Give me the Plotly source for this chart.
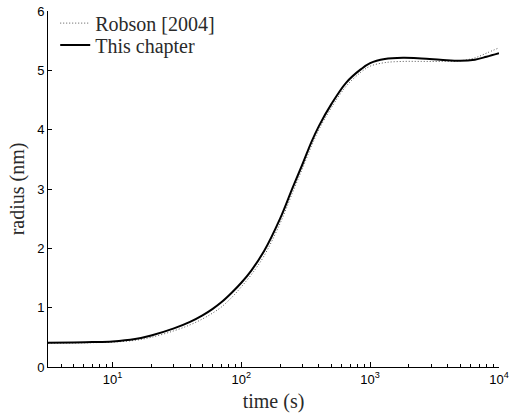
import plotly.graph_objects as go

# time (s) and radius (nm)
time_s = [3.16, 5, 7, 10, 15, 20, 30, 40, 50, 60, 70, 85, 100, 120, 150, 200, 250, 300, 350,
          400, 500, 650, 850, 1000, 1300, 1800, 2500, 3500, 5000, 6500, 8000, 10000]
radius_this = [0.41, 0.415, 0.42, 0.43, 0.47, 0.53, 0.65, 0.76, 0.87, 0.98, 1.09, 1.26, 1.42,
               1.63, 1.95, 2.50, 3.02, 3.43, 3.79, 4.06, 4.43, 4.79, 5.02, 5.12, 5.19, 5.21,
               5.20, 5.18, 5.16, 5.18, 5.23, 5.29]
radius_robson = [0.40, 0.405, 0.41, 0.42, 0.45, 0.50, 0.61, 0.71, 0.81, 0.91, 1.01, 1.18, 1.35,
                 1.56, 1.87, 2.42, 2.94, 3.36, 3.72, 4.00, 4.37, 4.73, 4.97, 5.07, 5.13, 5.15,
                 5.15, 5.15, 5.16, 5.21, 5.29, 5.38]

x_tickvals = [10, 100, 1000, 10000]
x_ticktext = ["10<sup>1</sup>", "10<sup>2</sup>", "10<sup>3</sup>", "10<sup>4</sup>"]
y_tickvals = [0, 1, 2, 3, 4, 5, 6]

serif = "Liberation Serif, DejaVu Serif, serif"
sans = "Liberation Sans, Arial, sans-serif"
text_color = "#2a2a2a"

fig = go.Figure()
fig.add_trace(go.Scatter(
    x=time_s, y=radius_robson, mode="lines", name="Robson [2004]", legend="legend",
    line=dict(color="#555555", width=1, dash="1px,2px", shape="spline", smoothing=1),
))
fig.add_trace(go.Scatter(
    x=time_s, y=radius_this, mode="lines", name="This chapter", legend="legend2",
    line=dict(color="black", width=2, shape="spline", smoothing=1),
))

legend_common = dict(x=0.016, xanchor="left", yanchor="middle",
                     font=dict(family=serif, size=20, color=text_color),
                     bgcolor="rgba(0,0,0,0)", itemwidth=30)

fig.update_layout(
    width=511, height=417,
    margin=dict(l=48, r=12, t=11, b=50, autoexpand=False),
    paper_bgcolor="white", plot_bgcolor="white",
    showlegend=True,
    legend=dict(y=0.966, **legend_common),
    legend2=dict(y=0.9045, **legend_common),
    xaxis=dict(
        type="log", range=[0.5, 4],
        title=dict(text="time (s)", font=dict(family=serif, size=20, color=text_color), standoff=8),
        tickmode="array", tickvals=x_tickvals, ticktext=x_ticktext,
        tickfont=dict(family=sans, size=13, color="black"),
        ticklabeloverflow="allow",
        ticks="inside", ticklen=5, tickcolor="black",
        minor=dict(ticks="inside", ticklen=3, tickcolor="black", showgrid=False,
                   tickvals=[4, 5, 6, 7, 8, 9, 20, 30, 40, 50, 60, 70, 80, 90,
                             200, 300, 400, 500, 600, 700, 800, 900,
                             2000, 3000, 4000, 5000, 6000, 7000, 8000, 9000]),
        showline=True, linecolor="black", linewidth=1,
        showgrid=False, zeroline=False,
    ),
    yaxis=dict(
        range=[0, 6],
        title=dict(text="radius (nm)", font=dict(family=serif, size=20, color=text_color), standoff=7),
        tickmode="array", tickvals=y_tickvals,
        tickfont=dict(family=sans, size=13, color="black"),
        ticklabeloverflow="allow",
        ticks="inside", ticklen=4, tickcolor="black",
        showline=True, linecolor="black", linewidth=1,
        showgrid=False, zeroline=False,
    ),
)

fig.write_html("out.html", config={"displayModeBar": False},
               post_script="document.body.style.margin='0';")
